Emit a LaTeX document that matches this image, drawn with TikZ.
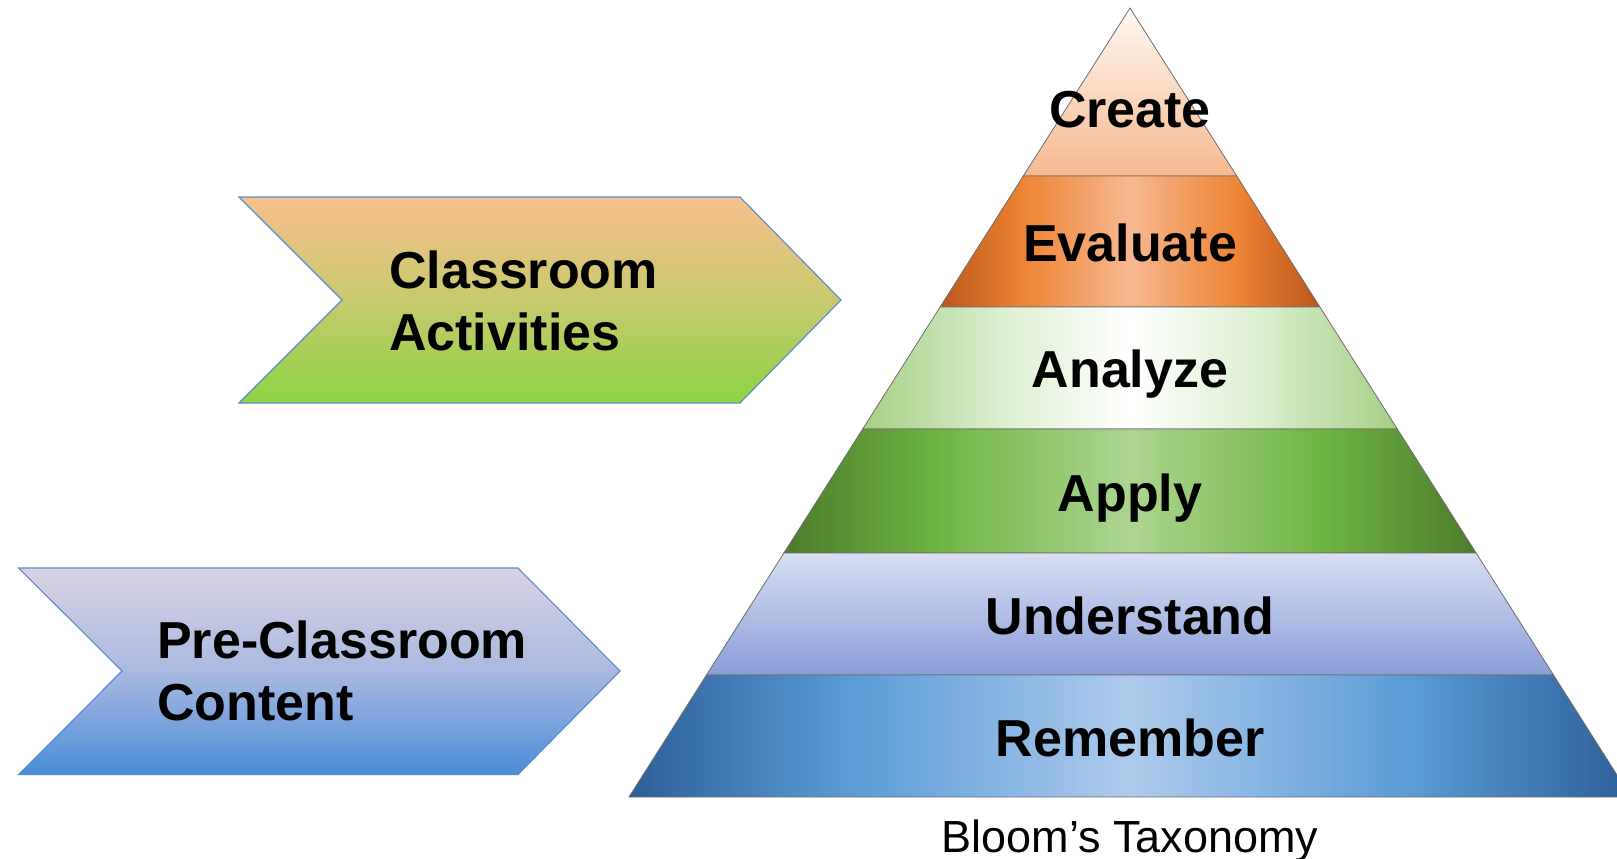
\documentclass[tikz,border=0pt]{standalone}
\usepackage{tikz}
\usepackage{fontspec}
\setmainfont{Liberation Sans}
\definecolor{crT}{HTML}{FFF8F2}
\definecolor{crB}{HTML}{F6B98F}
\definecolor{evA}{HTML}{BC561C}
\definecolor{evB}{HTML}{EE8434}
\definecolor{evC}{HTML}{F6B891}
\definecolor{anA}{HTML}{A4CF84}
\definecolor{anB}{HTML}{DCEFD0}
\definecolor{anC}{HTML}{FFFFFF}
\definecolor{apA}{HTML}{4B7B2B}
\definecolor{apB}{HTML}{6EB443}
\definecolor{apC}{HTML}{ADD591}
\definecolor{unT}{HTML}{D8DFF2}
\definecolor{unB}{HTML}{8A9DD8}
\definecolor{reA}{HTML}{2D5F98}
\definecolor{reB}{HTML}{5B9BD6}
\definecolor{reC}{HTML}{ADCBEC}
\definecolor{caT}{HTML}{F7BF8C}
\definecolor{caM}{HTML}{C8C96E}
\definecolor{caB}{HTML}{8DD444}
\definecolor{pcT}{HTML}{D9D1E5}
\definecolor{pcM}{HTML}{A9B9E0}
\definecolor{pcB}{HTML}{4A8CD8}
\definecolor{chevB}{HTML}{5B8BC9}
\definecolor{layB}{HTML}{6E6E6E}
\pgfdeclarehorizontalshading{evalsh}{100bp}{color(0bp)=(evA); color(25bp)=(evA); color(36bp)=(evB); color(50bp)=(evC); color(64bp)=(evB); color(75bp)=(evA); color(100bp)=(evA)}
\pgfdeclarehorizontalshading{analsh}{100bp}{color(0bp)=(anA); color(25bp)=(anA); color(38bp)=(anB); color(50bp)=(anC); color(62bp)=(anB); color(75bp)=(anA); color(100bp)=(anA)}
\pgfdeclarehorizontalshading{applsh}{100bp}{color(0bp)=(apA); color(25bp)=(apA); color(36bp)=(apB); color(50bp)=(apC); color(64bp)=(apB); color(75bp)=(apA); color(100bp)=(apA)}
\pgfdeclarehorizontalshading{remesh}{100bp}{color(0bp)=(reA); color(25bp)=(reA); color(36bp)=(reB); color(50bp)=(reC); color(64bp)=(reB); color(75bp)=(reA); color(100bp)=(reA)}
\begin{document}
\begin{tikzpicture}[x=1pt,y=-1pt,
  lay/.style={draw=layB,line width=0.8pt},
  chev/.style={draw=chevB,line width=1.1pt,line join=miter},
  lbl/.style={font=\bfseries\fontsize{52}{62}\selectfont,inner sep=0pt,text=black},
  captext/.style={font=\fontsize{45}{54}\selectfont,inner sep=0pt,text=black}]
\path[use as bounding box] (0,0) rectangle (1617,859);
\clip (0,0) rectangle (1617,859);
\fill[white] (0,0) rectangle (1617,859);
% chevrons
\shade[chev, top color=caT, bottom color=caB, middle color=caM]
  (239,197) -- (740,197) -- (841,300) -- (740,403) -- (239,403) -- (342,300) -- cycle;
\shade[chev, top color=pcT, bottom color=pcB, middle color=pcM]
  (18.6,568) -- (518,568) -- (620,671) -- (518,774.5) -- (18.6,774.5) -- (122,671) -- cycle;
% pyramid layers
\shade[lay, top color=crT, bottom color=crB]
  (1130,8) -- (1236.7,176) -- (1023.3,176) -- cycle;
\shade[lay, shading=evalsh]
  (1023.3,176) -- (1236.7,176) -- (1319.9,307) -- (940.1,307) -- cycle;
\shade[lay, shading=analsh]
  (940.1,307) -- (1319.9,307) -- (1397.3,429) -- (862.7,429) -- cycle;
\shade[lay, shading=applsh]
  (862.7,429) -- (1397.3,429) -- (1476.1,553) -- (783.9,553) -- cycle;
\shade[lay, top color=unT, bottom color=unB]
  (783.9,553) -- (1476.1,553) -- (1553.5,675) -- (706.5,675) -- cycle;
\shade[lay, shading=remesh]
  (706.5,675) -- (1553.5,675) -- (1631,797) -- (629,797) -- cycle;
% labels
\node[lbl, anchor=base] (create) at (1130,127) {Create};
\node[lbl, anchor=base] (evaluate) at (1130,261) {Evaluate};
\node[lbl, anchor=base] (analyze) at (1130,387) {Analyze};
\node[lbl, anchor=base] (apply) at (1130,511) {Apply};
\node[lbl, anchor=base] (understand) at (1130,634) {Understand};
\node[lbl, anchor=base] (remember) at (1130,756) {Remember};
\node[captext, anchor=base] (bloom) at (1130,852) {Bloom’s Taxonomy};
\node[lbl, anchor=west, align=left] (classact) at (389,301) {Classroom\\Activities};
\node[lbl, anchor=west, align=left] (precont) at (157,671) {Pre-Classroom\\Content};
\end{tikzpicture}
\end{document}
